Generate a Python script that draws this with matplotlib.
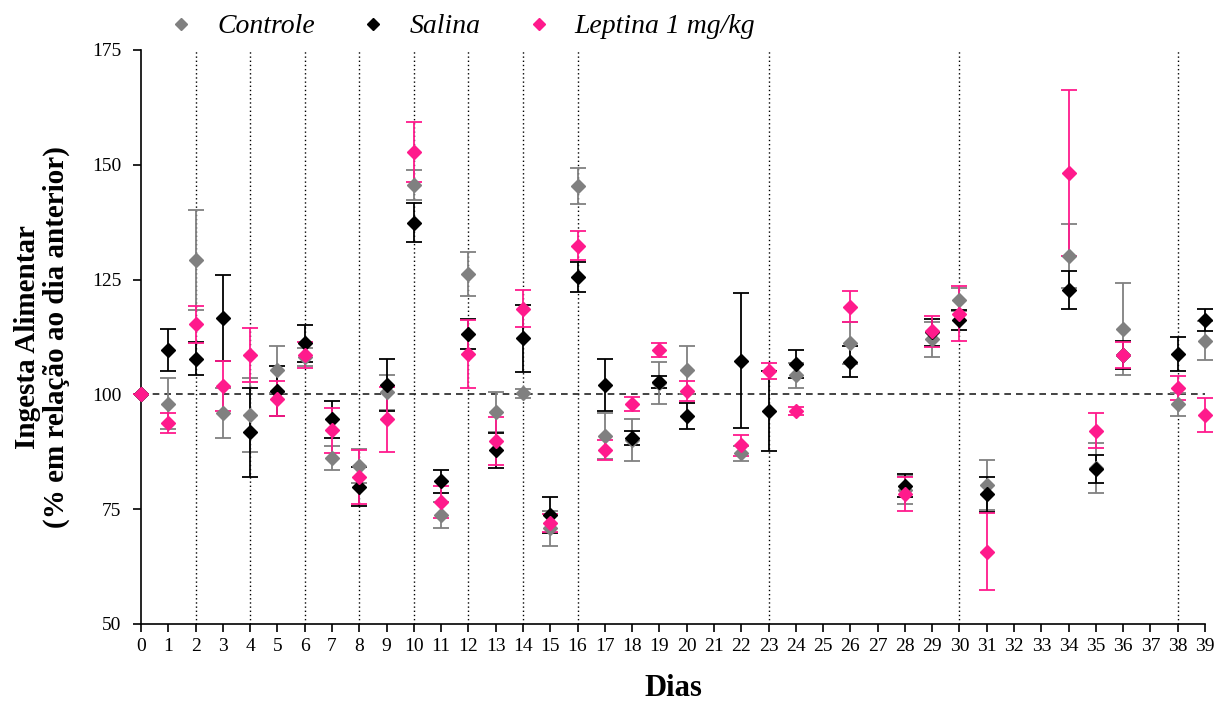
import matplotlib
matplotlib.use('Agg')
import matplotlib.pyplot as plt
import numpy as np

plt.rcParams['font.family'] = ['Liberation Serif', 'DejaVu Serif']

nan = np.nan

# dias com medida
days = [0, 1, 2, 3, 4, 5, 6, 7, 8, 9, 10, 11, 12, 13, 14, 15, 16, 17, 18, 19, 20,
        22, 23, 24, 26, 28, 29, 30, 31, 34, 35, 36, 38, 39]

controle = [100, 98.0, 129.2, 95.9, 95.5, 105.4, 108.2, 86.1, 84.4, 100.5, 145.6,
            73.7, 126.3, 96.2, 100.2, 70.8, 145.3, 91.0, 90.1, 102.5, 105.3,
            87.2, nan, 104.2, 111.2, 79.2, 112.0, 120.6, 80.3, 130.2, 84.0,
            114.2, 97.8, 111.7]
controle_err = [0, 5.6, 10.9, 5.5, 8.0, 5.1, 2.0, 2.6, 3.8, 3.8, 3.3,
                2.9, 4.8, 4.4, 1.0, 3.8, 3.9, 5.0, 4.6, 4.6, 5.3,
                1.6, nan, 2.7, 4.5, 3.0, 3.8, 2.5, 5.5, 7.0, 5.4,
                10.0, 2.5, 4.3]

salina = [100, 109.6, 107.8, 116.7, 91.8, 100.7, 111.1, 94.6, 79.9, 102.0, 137.4,
          81.1, 113.1, 87.8, 112.2, 73.8, 125.6, 102.1, 90.5, 102.7, 95.3,
          107.3, 96.4, 106.6, 107.1, 80.1, 113.5, 116.2, 78.2, 122.7, 83.8,
          108.6, 108.7, 116.2]
salina_err = [0, 4.6, 3.6, 9.4, 9.7, 5.5, 4.1, 4.0, 4.3, 5.7, 4.2,
              2.5, 3.3, 3.8, 7.3, 3.9, 3.2, 5.7, 1.5, 1.4, 2.8,
              14.7, 8.7, 3.1, 3.4, 2.5, 2.9, 2.2, 3.9, 4.2, 3.0,
              3.0, 3.7, 2.4]

leptina = [100, 93.8, 115.3, 101.8, 108.6, 99.1, 108.6, 92.2, 82.0, 94.6, 152.8,
           76.6, 108.8, 89.9, 118.7, 72.0, 132.4, 87.9, 97.9, 109.7, 100.8,
           88.9, 105.1, 96.4, 119.1, 78.4, 113.7, 117.6, 65.7, 148.2, 92.1,
           108.6, 101.4, 95.5]
leptina_err = [0, 2.1, 4.0, 5.5, 5.9, 3.9, 2.9, 4.9, 5.9, 7.1, 6.5,
               3.5, 7.3, 5.2, 4.1, 1.9, 3.1, 2.2, 1.5, 1.5, 2.2,
               2.3, 1.7, 0.8, 3.4, 3.7, 3.4, 5.9, 8.4, 18.1, 3.8,
               2.8, 2.6, 3.7]

marked_days = [2, 4, 6, 8, 10, 12, 14, 16, 23, 30, 38]

series = [
    ('Controle', controle, controle_err, '#808080'),
    ('Salina', salina, salina_err, '#000000'),
    ('Leptina 1 mg/kg', leptina, leptina_err, '#FF1A8C'),
]

fig = plt.figure(figsize=(12.25, 7.05), dpi=100)
ax = fig.add_axes([0.1151, 0.1149, 0.8686, 0.8142])

for d in marked_days:
    ax.axvline(d, color='black', lw=1.0, linestyle=(0, (1, 2)), zorder=1)
ax.axhline(100, color='#222222', lw=1.2, linestyle=(0, (4, 3)), zorder=1)

handles = []
for name, vals, err, col in series:
    h = ax.errorbar(days, vals, yerr=err, fmt='D', color=col, ecolor=col,
                    markersize=7, elinewidth=1.3, capsize=6, capthick=1.3,
                    label=name, clip_on=False, zorder=3)
    handles.append(h)

ax.set_xlim(0, 39)
ax.set_ylim(50, 175)
ax.set_xticks(range(0, 40))
ax.set_yticks([50, 75, 100, 125, 150, 175])
ax.tick_params(axis='both', direction='out', length=6, width=1.2, labelsize=14)
ax.tick_params(axis='x', pad=4)
ax.tick_params(axis='y', pad=8)
for s in ['top', 'right']:
    ax.spines[s].set_visible(False)
for s in ['left', 'bottom']:
    ax.spines[s].set_linewidth(1.2)

ax.set_xlabel('Dias', fontsize=22, fontweight='bold', labelpad=14)
ax.set_ylabel('Ingesta Alimentar\n(% em relação ao dia anterior)', fontsize=21,
              fontweight='bold', labelpad=16, linespacing=1.1)

leg = ax.legend(handles=[h[0] for h in handles], labels=[s[0] for s in series],
                loc='lower left', bbox_to_anchor=(0.001, 0.975), ncol=3,
                frameon=False, handlelength=1.0, handletextpad=0.8,
                columnspacing=1.6, markerscale=0.9,
                prop={'style': 'italic', 'size': 20})

fig.savefig('out.png', dpi=100)
